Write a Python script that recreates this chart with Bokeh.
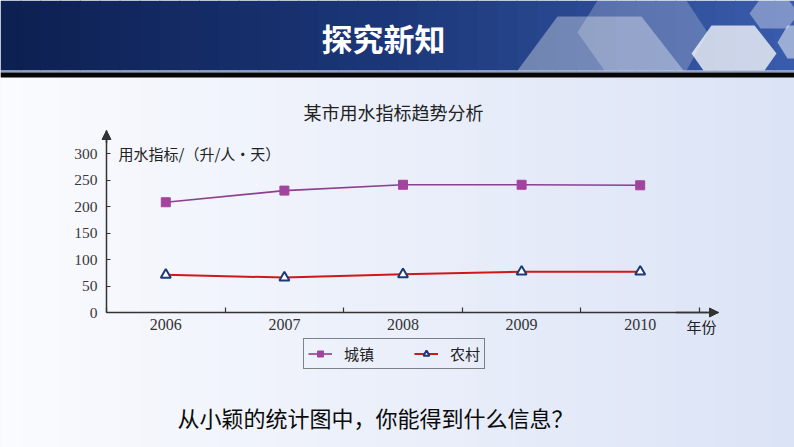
from bokeh.plotting import figure
from bokeh.models import (Range1d, FixedTicker, LinearAxis, Label, BoxAnnotation,
                          PolyAnnotation, Arrow, NormalHead, Legend, LegendItem)
from bokeh.embed import file_html
from bokeh.resources import INLINE

# ---- data ----
years = [2006, 2007, 2008, 2009, 2010]
year_labels = ["2006", "2007", "2008", "2009", "2010"]
city = [208, 230, 241, 241, 240]      # 城镇
rural = [71, 66, 72, 77, 77]          # 农村
y_ticks = [0, 50, 100, 150, 200, 250, 300]
year_bounds = [2005.5, 2006.5, 2007.5, 2008.5, 2009.5, 2010.5]

W, H = 794, 447
CJK = "Noto Sans CJK SC"
SERIF = "Liberation Serif"

# layout of the chart area inside the slide (canvas pixels)
AX_LEFT, AX_RIGHT_END, AX_BOTTOM, AX_TOP = 106, 718, 312, 130
PX_YEAR = (699 - 106) / 5.0
PX_UNIT = (312 - 153) / 300.0
x0 = 2005.5 - AX_LEFT / PX_YEAR
y0 = -(H - AX_BOTTOM) / PX_UNIT
x_end_axis = 2005.5 + (AX_RIGHT_END - AX_LEFT) / PX_YEAR
y_end_axis = (AX_BOTTOM - AX_TOP) / PX_UNIT

p = figure(width=W, height=H, output_backend="svg", toolbar_location=None,
           x_range=Range1d(x0, x0 + W / PX_YEAR), y_range=Range1d(y0, y0 + H / PX_UNIT),
           x_axis_type=None, y_axis_type=None,
           min_border=0, min_border_left=0, min_border_right=0,
           min_border_top=0, min_border_bottom=0)
p.outline_line_color = None
p.background_fill_color = "#eef1fa"
p.border_fill_color = "#eef1fa"
p.xgrid.visible = False
p.ygrid.visible = False

def lerp(c0, c1, t):
    return "#%02x%02x%02x" % tuple(int(round(a + (b - a) * t)) for a, b in zip(c0, c1))

def cbox(l, r, t, b, col):
    p.add_layout(BoxAnnotation(left=l, right=r, top=t, bottom=b,
                               left_units="canvas", right_units="canvas",
                               top_units="canvas", bottom_units="canvas",
                               fill_color=col, fill_alpha=1, line_color=None,
                               level="image"))

# slide background gradient (left near white -> right light lavender)
n = 40
for i in range(n):
    cbox(W * i / n, W * (i + 1) / n + 1, 77, H,
         lerp((250, 251, 254), (219, 227, 246), (i + 0.5) / n))

# header gradient
for i in range(n):
    t = (i + 0.5) / n
    if t < 0.5:
        col = lerp((12, 31, 80), (28, 56, 122), t / 0.5)
    else:
        col = lerp((28, 56, 122), (58, 92, 172), (t - 0.5) / 0.5)
    cbox(W * i / n, W * (i + 1) / n + 1, 0, 70, col)
cbox(0, W, 70, 72, "#8fa1c9")
cbox(0, W, 72, 77, "#060606")

# hexagon decorations
hexes = [
    ([517, 557, 641, 683], [70, 16, 16, 70], 0.35),
    ([577, 597, 686, 707, 686, 604], [32, 0, 0, 32, 70, 70], 0.22),
    ([691, 711, 754, 776, 764, 703], [53, 25, 25, 53, 70, 70], 0.75),
    ([749, 760, 787, 798, 787, 760], [13, -2, -2, 13, 28, 28], 0.35),
    ([777, 787, 800, 800, 787], [42, 25, 25, 58, 58], 0.5),
]
for xs, ys, a in hexes:
    p.add_layout(PolyAnnotation(xs=xs, ys=ys, xs_units="canvas", ys_units="canvas",
                                fill_color="white", fill_alpha=a, line_color=None,
                                level="image"))

# axes (fixed inside the slide)
AX = "#333333"
xaxis = LinearAxis(ticker=FixedTicker(ticks=years, minor_ticks=year_bounds),
                   fixed_location=0, bounds=(2005.5, x_end_axis),
                   major_label_overrides={y: s for y, s in zip(years, year_labels)},
                   major_tick_line_color=None, major_tick_in=0, major_tick_out=0,
                   minor_tick_in=5, minor_tick_out=0, minor_tick_line_color=AX,
                   minor_tick_line_width=1.2,
                   axis_line_color=AX, axis_line_width=1.5,
                   major_label_standoff=6,
                   major_label_text_font=SERIF, major_label_text_font_size="16px",
                   major_label_text_color="#333333")
p.add_layout(xaxis, "below")
yaxis = LinearAxis(ticker=FixedTicker(ticks=y_ticks),
                   fixed_location=2005.5, bounds=(0, y_end_axis),
                   major_tick_in=4, major_tick_out=0, major_tick_line_color=AX,
                   major_tick_line_width=1.2,
                   minor_tick_line_color=None,
                   axis_line_color=AX, axis_line_width=1.5,
                   major_label_standoff=9,
                   major_label_text_font=SERIF, major_label_text_font_size="15.5px",
                   major_label_text_color="#3a3a3a")
p.add_layout(yaxis, "left")

p.add_layout(Arrow(end=NormalHead(size=9, fill_color=AX, line_color=AX),
                   x_start=2005.5, y_start=320, x_end=2005.5, y_end=y_end_axis,
                   line_color=AX, line_width=1.5))
p.add_layout(Arrow(end=NormalHead(size=9, fill_color=AX, line_color=AX),
                   x_start=2010.3, y_start=0, x_end=x_end_axis, y_end=0,
                   line_color=AX, line_width=1.5))

# series
l1 = p.line(years, city, line_color="#8e3f8e", line_width=1.6)
s1 = p.scatter(years, city, marker="square", size=9, fill_color="#a2449f",
               line_color="#a2449f")
l2 = p.line(years, rural, line_color="#d01818", line_width=2)
s2 = p.scatter(years, rural, marker="triangle", size=10, fill_color="white",
               line_color="#1c3a78", line_width=2)

legend = Legend(items=[LegendItem(label="城镇", renderers=[l1, s1]),
                       LegendItem(label="农村", renderers=[l2, s2])],
                orientation="horizontal", location=(303, H - 369),
                padding=4, spacing=40, glyph_width=24, glyph_height=15,
                label_height=15, label_standoff=12,
                label_text_font=CJK, label_text_font_size="15px",
                label_text_color="#222222",
                border_line_color="#111111", border_line_width=1.5,
                background_fill_alpha=0)
p.add_layout(legend, "center")

def txt(text, x, y, size, color="#222222", align="center", style="normal"):
    p.add_layout(Label(x=x, y=y, x_units="canvas", y_units="canvas", text=text,
                       text_font=CJK, text_font_size=size, text_color=color,
                       text_align=align, text_baseline="middle",
                       text_font_style=style))

txt("探究新知", 383, 37, "31px", color="white", style="bold")
txt("某市用水指标趋势分析", 393, 111, "18px")
txt("用水指标/（升/人·天）", 118, 153, "15px", align="left")
txt("年份", 686, 326, "15px", align="left")
txt("从小颖的统计图中，你能得到什么信息？", 375, 416, "22px", color="#0a0a0a")

open("out.html", "w").write(file_html(p, INLINE))
